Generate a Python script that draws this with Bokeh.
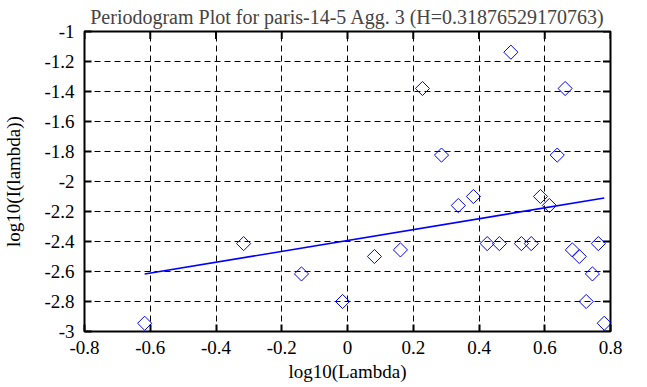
from bokeh.plotting import figure
from bokeh.models import Range1d, FixedTicker, CustomJSTickFormatter
from bokeh.embed import file_html
from bokeh.resources import INLINE

# Periodogram points: log10(frequency) vs log10(I(lambda))
log_lambda = [-0.617, -0.316, -0.140, -0.015, 0.082, 0.161, 0.228, 0.286, 0.337,
              0.383, 0.425, 0.462, 0.497, 0.529, 0.559, 0.587, 0.614, 0.638,
              0.662, 0.684, 0.705, 0.726, 0.745, 0.763, 0.781]
log_I = [-2.945, -2.414, -2.616, -2.800, -2.500, -2.456, -1.380, -1.824, -2.160,
         -2.100, -2.414, -2.414, -1.138, -2.414, -2.414, -2.100, -2.160, -1.824,
         -1.380, -2.456, -2.500, -2.800, -2.616, -2.414, -2.945]

# Fitted regression line endpoints
fit_x = [-0.617, 0.781]
fit_y = [-2.617, -2.110]

x_ticks = [-0.8, -0.6, -0.4, -0.2, 0.0, 0.2, 0.4, 0.6, 0.8]
x_tick_labels = ["-0.8", "-0.6", "-0.4", "-0.2", "0", "0.2", "0.4", "0.6", "0.8"]
y_ticks = [-3.0, -2.8, -2.6, -2.4, -2.2, -2.0, -1.8, -1.6, -1.4, -1.2, -1.0]
y_tick_labels = ["-3", "-2.8", "-2.6", "-2.4", "-2.2", "-2", "-1.8", "-1.6", "-1.4", "-1.2", "-1"]

title_text = "Periodogram Plot for paris-14-5 Agg. 3 (H=0.31876529170763)"
FONT = "Liberation Serif"

p = figure(width=647, height=387, output_backend="svg", toolbar_location=None,
           x_range=Range1d(-0.8, 0.8), y_range=Range1d(-3, -1),
           min_border_left=82, min_border_right=37, min_border_top=31, min_border_bottom=56,
           x_axis_label="log10(Lambda)", y_axis_label="log10(I(lambda))")

p.title.text = title_text
p.title.align = "center"
p.title.text_font = FONT
p.title.text_font_size = "20px"
p.title.text_font_style = "normal"
p.title.standoff = 7
p.title.offset = 0

p.background_fill_color = "white"
p.border_fill_color = "white"
p.outline_line_color = "black"
p.outline_line_width = 2

xt = FixedTicker(ticks=x_ticks)
yt = FixedTicker(ticks=y_ticks)

for ax, ticker, labels in ((p.xaxis[0], xt, x_tick_labels), (p.yaxis[0], yt, y_tick_labels)):
    ax.ticker = ticker
    ax.formatter = CustomJSTickFormatter(args=dict(labels=labels), code="return labels[index];")
    ax.axis_line_color = None
    ax.major_tick_in = 7
    ax.major_tick_out = 0
    ax.major_tick_line_width = 2
    ax.minor_tick_line_color = None
    ax.major_label_text_font = FONT
    ax.major_label_text_font_size = "19px"
    ax.major_label_text_color = "black"
    ax.axis_label_text_font = FONT
    ax.axis_label_text_font_size = "19px"
    ax.axis_label_text_font_style = "normal"
    ax.axis_label_text_color = "black"

p.xaxis[0].major_label_standoff = 9
p.xaxis[0].axis_label_standoff = 4
p.yaxis[0].major_label_standoff = 10
p.yaxis[0].axis_label_standoff = 17

p.xgrid.ticker = xt
p.ygrid.ticker = yt
for g in (p.xgrid[0], p.ygrid[0]):
    g.grid_line_color = "black"
    g.grid_line_dash = "6 4"
    g.grid_line_width = 1
    g.grid_line_alpha = 1.0

# Inward ticks on the right and top borders (half of each dash is clipped by the frame)
p.scatter([0.8] * len(y_ticks), y_ticks, marker="dash", size=15,
          line_color="black", line_width=2)
p.scatter(x_ticks, [-1.0] * len(x_ticks), marker="dash", size=15, angle=1.5707963268,
          line_color="black", line_width=2)

p.line(fit_x, fit_y, line_color="#0000ff", line_width=1.6)
p.scatter(log_lambda, log_I, marker="square", size=10, angle=0.7853981634,
          fill_color=None, line_color="#0000ff", line_width=1)

open("out.html", "w").write(file_html(p, INLINE))
